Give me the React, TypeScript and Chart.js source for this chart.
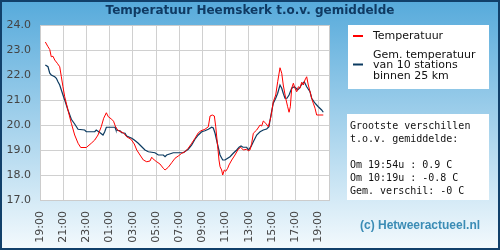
import React, { useEffect, useRef } from "react";
import { Chart, registerables } from "chart.js";

Chart.register(...registerables);

// hours after 19:00
const hoursRed = [0.46,0.69,0.84,0.97,1.12,1.27,1.49,1.70,1.84,1.98,2.13,2.41,2.70,2.99,3.28,3.51,3.99,4.42,4.72,5.00,5.28,5.49,5.72,5.89,6.18,6.34,6.53,6.75,7.18,7.47,7.84,8.13,8.34,8.62,8.91,9.20,9.48,9.63,9.85,10.06,10.34,10.63,10.78,11.06,11.35,11.64,11.92,12.22,12.50,12.78,13.08,13.36,13.65,13.88,14.22,14.51,14.66,14.85,15.03,15.15,15.32,15.43,15.52,15.66,15.75,15.89,16.01,16.18,16.29,16.53,16.81,17.09,17.30,17.53,17.82,17.96,18.10,18.25,18.39,18.68,18.97,19.11,19.25,19.46,19.68,19.91,20.11,20.32,20.49,20.69,20.84,20.97,21.18,21.35,21.47,21.58,21.70,21.84,21.98,22.13,22.27,22.41,22.56,22.70,22.84,22.99,23.13,23.28,23.42,23.56,23.71,23.85,24.42];
const tempRed = [23.32,23.13,23.02,22.73,22.75,22.60,22.47,22.33,21.93,21.53,21.13,20.60,20.07,19.60,19.27,19.10,19.10,19.27,19.40,19.60,19.93,20.27,20.49,20.33,20.23,20.15,19.91,19.77,19.69,19.53,19.43,19.24,19.00,18.80,18.60,18.53,18.56,18.71,18.60,18.53,18.44,18.27,18.20,18.31,18.49,18.67,18.76,18.87,18.93,19.07,19.27,19.47,19.69,19.77,19.83,19.93,20.36,20.40,20.36,19.93,19.13,18.60,18.33,18.20,18.00,18.20,18.15,18.27,18.40,18.60,18.80,19.03,19.11,19.00,19.03,18.97,19.00,19.27,19.67,19.80,20.00,19.96,20.16,20.07,19.93,20.33,20.93,21.20,21.73,22.29,22.07,21.60,21.07,20.73,20.51,20.73,21.47,21.67,21.47,21.33,21.53,21.47,21.71,21.60,21.80,21.93,21.60,21.33,21.07,20.87,20.67,20.40,20.40];

const hoursAvg = [0.46,0.69,0.84,0.97,1.27,1.41,1.55,1.70,1.84,1.98,2.13,2.41,2.70,2.99,3.28,3.85,3.99,4.72,4.85,5.15,5.43,5.57,5.72,6.47,6.55,6.90,7.04,7.33,7.47,7.91,8.13,8.47,8.77,9.05,9.34,9.91,10.20,10.63,10.78,10.92,11.49,12.35,12.78,13.08,13.36,13.65,13.94,14.22,14.51,14.80,14.94,15.09,15.32,15.52,15.75,15.95,16.18,16.38,16.66,16.96,17.16,17.33,17.50,17.82,17.96,18.19,18.39,18.68,18.97,19.25,19.54,19.74,19.91,20.11,20.32,20.49,20.69,20.84,20.97,21.12,21.29,21.47,21.70,21.92,22.07,22.21,22.37,22.56,22.78,22.99,23.28,23.42,23.71,23.99,24.28,24.42];
const tempAvg = [22.40,22.33,22.07,22.00,21.93,21.87,21.73,21.60,21.40,21.20,21.00,20.60,20.23,20.04,19.83,19.80,19.73,19.73,19.80,19.70,19.60,19.72,19.91,19.91,19.80,19.77,19.69,19.67,19.56,19.47,19.40,19.27,19.13,19.00,18.93,18.89,18.80,18.80,18.73,18.80,18.89,18.89,19.03,19.20,19.43,19.60,19.73,19.77,19.83,19.91,19.88,19.67,19.20,18.80,18.60,18.60,18.67,18.73,18.87,19.00,19.11,19.16,19.11,19.11,19.00,19.13,19.33,19.60,19.73,19.80,19.84,19.93,20.40,20.87,21.07,21.27,21.60,21.47,21.27,21.07,21.07,21.20,21.47,21.53,21.47,21.40,21.47,21.63,21.73,21.53,21.33,21.07,20.87,20.73,20.60,20.51];

const tickHours = [0,2,4,6,8,10,12,14,16,18,20,22,24];
const tickLabels = ["19:00","21:00","23:00","01:00","03:00","05:00","07:00","09:00","11:00","13:00","15:00","17:00","19:00"];

const titleText = "Temperatuur Heemskerk t.o.v. gemiddelde";
const seriesNames = ["Temperatuur", "Gem. temperatuur"];
const legendLines = ["Gem. temperatuur", "van 10 stations", "binnen 25 km"];
const statsLines = ["Grootste verschillen", "t.o.v. gemiddelde:", "", "Om 19:54u : 0.9 C", "Om 10:19u : -0.8 C", "Gem. verschil: -0 C"];
const copyrightText = "(c) Hetweeractueel.nl";

const decorPlugin = {
  id: "decor",
  beforeDraw(chart: any) {
    const ctx = chart.ctx;
    const { width, height } = chart;
    ctx.save();
    const g = ctx.createLinearGradient(0, 0, 0, height);
    g.addColorStop(0, "#56aadb");
    g.addColorStop(1, "#f4fafd");
    ctx.fillStyle = g;
    ctx.fillRect(0, 0, width, height);
    const a = chart.chartArea;
    ctx.fillStyle = "#ffffff";
    ctx.fillRect(a.left, a.top, a.right - a.left, a.bottom - a.top);
    ctx.fillRect(348, 25, 141, 64);
    ctx.fillRect(347, 114, 142, 86);
    ctx.restore();
  },
  afterDraw(chart: any) {
    const ctx = chart.ctx;
    const { width, height } = chart;
    const a = chart.chartArea;
    ctx.save();
    ctx.strokeStyle = "#cccccc";
    ctx.lineWidth = 1;
    ctx.strokeRect(a.left + 0.5, a.top + 0.5, a.right - a.left - 1, a.bottom - a.top);

    ctx.fillStyle = "#0f3a63";
    ctx.font = "bold 12px 'DejaVu Sans'";
    ctx.textAlign = "center";
    ctx.textBaseline = "middle";
    ctx.fillText(titleText, 250, 11);

    // legend
    ctx.textAlign = "left";
    ctx.lineWidth = 2;
    ctx.strokeStyle = "#ff0000";
    ctx.beginPath(); ctx.moveTo(353, 36); ctx.lineTo(363, 36); ctx.stroke();
    ctx.strokeStyle = "#0b3a60";
    ctx.beginPath(); ctx.moveTo(353, 64.5); ctx.lineTo(363, 64.5); ctx.stroke();
    ctx.fillStyle = "#111111";
    ctx.font = "11px 'DejaVu Sans'";
    ctx.fillText(seriesNames[0], 373, 36);
    legendLines.forEach((l, i) => ctx.fillText(l, 373, 55 + i * 10.5));

    // stats
    ctx.font = "10px 'DejaVu Sans Mono'";
    statsLines.forEach((l, i) => ctx.fillText(l, 350, 126 + i * 13));

    ctx.font = "bold 12px 'Liberation Sans'";
    ctx.fillStyle = "#3b8cb5";
    ctx.fillText(copyrightText, 360, 226);

    ctx.strokeStyle = "#11406a";
    ctx.lineWidth = 2;
    ctx.strokeRect(1, 1, width - 2, height - 2);
    ctx.restore();
  },
};

export default function App() {
  const ref = useRef<HTMLCanvasElement | null>(null);
  useEffect(() => {
    const canvas = ref.current;
    if (!canvas) return;
    const chart = new Chart(canvas, {
      type: "line",
      data: {
        datasets: [
          {
            label: seriesNames[0],
            data: hoursRed.map((h, i) => ({ x: h, y: tempRed[i] })),
            borderColor: "#ff0000",
            borderWidth: 1,
            pointRadius: 0,
            tension: 0,
          },
          {
            label: seriesNames[1],
            data: hoursAvg.map((h, i) => ({ x: h, y: tempAvg[i] })),
            borderColor: "#0b3a60",
            borderWidth: 1.2,
            pointRadius: 0,
            tension: 0,
          },
        ],
      },
      options: {
        animation: false,
        responsive: false,
        devicePixelRatio: 1,
        layout: { padding: { left: 0, right: 170, top: 25, bottom: 0 } },
        plugins: { legend: { display: false }, title: { display: false }, tooltip: { enabled: false } },
        scales: {
          x: {
            type: "linear",
            min: 0,
            max: 25,
            afterFit: (s: any) => { s.height = 50; },
            afterBuildTicks: (s: any) => { s.ticks = tickHours.map((v) => ({ value: v })); },
            grid: { color: "#d0d0d0", drawTicks: false },
            border: { display: false },
            ticks: {
              minRotation: 90,
              maxRotation: 90,
              padding: 11,
              color: "#444444",
              font: { family: "'DejaVu Sans'", size: 11 },
              callback: (v: any) => tickLabels[tickHours.indexOf(Number(v))] ?? "",
            },
          },
          y: {
            min: 17,
            max: 24,
            afterFit: (s: any) => { s.width = 40; },
            grid: { color: "#d0d0d0", drawTicks: false },
            border: { display: false },
            ticks: {
              stepSize: 1,
              padding: 9,
              color: "#444444",
              font: { family: "'DejaVu Sans'", size: 11 },
              callback: (v: any) => Number(v).toFixed(1),
            },
          },
        },
      },
      plugins: [decorPlugin],
    });
    return () => chart.destroy();
  }, []);
  return (
    <div style={{ position: "absolute", left: 0, top: 0, width: 500, height: 250 }}>
      <canvas ref={ref} width={500} height={250} />
    </div>
  );
}
